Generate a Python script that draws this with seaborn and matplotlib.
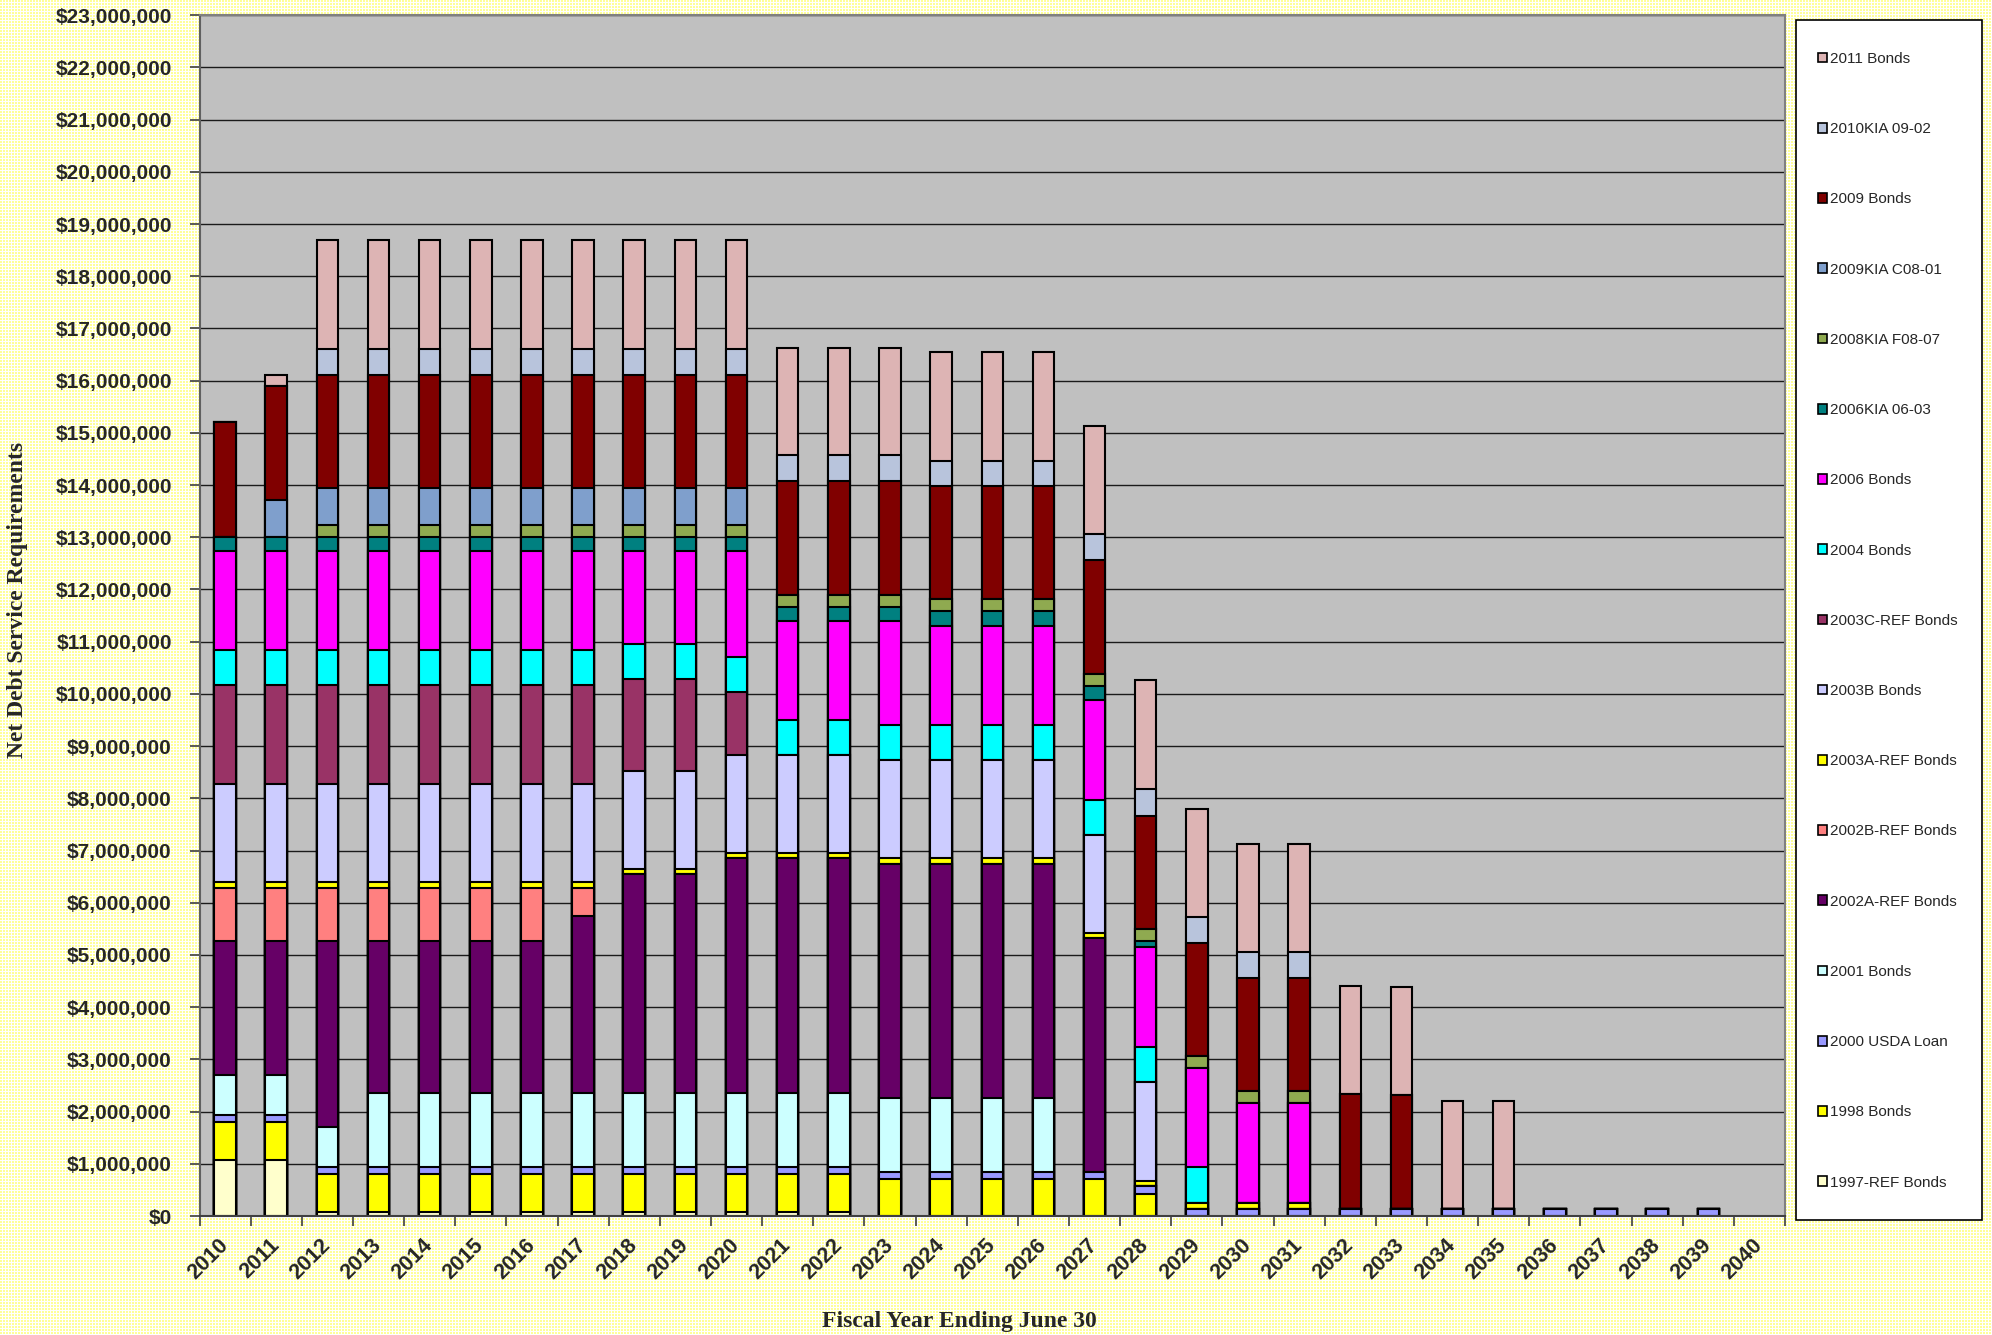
import numpy as np
import pandas as pd
import matplotlib
matplotlib.use("Agg")
import matplotlib.pyplot as plt
from matplotlib.patches import Patch, Rectangle
import seaborn as sns

# Fiscal years (ending June 30)
years = [str(y) for y in range(2010, 2041)]

# Annual debt service per issue, in millions of dollars (2010 ... 2040)
bonds_1997_ref = [1.08, 1.08] + [0.08] * 11 + [0.0] * 18
bonds_1998 = [0.72] * 13 + [0.70] * 5 + [0.43] + [0.0] * 12
usda_loan_2000 = [0.14] * 30 + [0.0]
bonds_2001 = [0.77] * 3 + [1.41] * 10 + [1.42] * 4 + [0.0] * 14
bonds_2002a_ref = [2.55, 2.55, 3.55, 2.91, 2.91, 2.91, 2.91, 3.40, 4.20, 4.20,
                   4.50, 4.50, 4.50, 4.49, 4.49, 4.49, 4.49, 4.48] + [0.0] * 13
bonds_2002b_ref = [1.03] * 7 + [0.54] + [0.0] * 23
bonds_2003a_ref = [0.11] * 8 + [0.10] * 2 + [0.11] * 3 + [0.10] * 9 + [0.0] * 9
bonds_2003b = [1.87] * 8 + [1.88] * 2 + [1.87] * 3 + [1.88] * 5 + [1.89] + [0.0] * 12
bonds_2003c_ref = [1.91] * 8 + [1.75] * 2 + [1.20] + [0.0] * 20
bonds_2004 = [0.67] * 8 + [0.68] * 3 + [0.67] * 2 + [0.68] * 4 + [0.67, 0.68, 0.69] + [0.0] * 11
bonds_2006 = [1.89] * 8 + [1.78] * 2 + [2.03] + [1.89] * 2 + [1.98] + [1.90] * 3 + [1.91] * 3 + [1.93] * 2 + [0.0] * 9
kia_2006_0603 = [0.27] * 18 + [0.12] + [0.0] * 12
kia_2008_f0807 = [0.0, 0.0] + [0.23] * 18 + [0.22] * 2 + [0.0] * 9
kia_2009_c0801 = [0.0, 0.71] + [0.70] * 9 + [0.0] * 20
bonds_2009 = [2.19, 2.18] + [2.17] * 9 + [2.18] * 6 + [2.19, 2.17] + [2.16] * 3 + [2.20, 2.17] + [0.0] * 7
kia_2010_0902 = [0.0, 0.0] + [0.49] * 9 + [0.50] * 3 + [0.48] * 3 + [0.49] + [0.50] * 2 + [0.51] * 2 + [0.0] * 9
bonds_2011 = [0.0, 0.20] + [2.09] * 9 + [2.06] * 3 + [2.08] * 3 + [2.07, 2.09, 2.07] + [2.06] * 2 + [2.07] * 4 + [0.0] * 5

series_names = ["1997-REF Bonds", "1998 Bonds", "2000 USDA Loan", "2001 Bonds",
                "2002A-REF Bonds", "2002B-REF Bonds", "2003A-REF Bonds", "2003B Bonds",
                "2003C-REF Bonds", "2004 Bonds", "2006 Bonds", "2006KIA 06-03",
                "2008KIA F08-07", "2009KIA C08-01", "2009 Bonds", "2010KIA 09-02",
                "2011 Bonds"]
series_values = [bonds_1997_ref, bonds_1998, usda_loan_2000, bonds_2001,
                 bonds_2002a_ref, bonds_2002b_ref, bonds_2003a_ref, bonds_2003b,
                 bonds_2003c_ref, bonds_2004, bonds_2006, kia_2006_0603,
                 kia_2008_f0807, kia_2009_c0801, bonds_2009, kia_2010_0902,
                 bonds_2011]
series_colors = ["#FFFFCC", "#FFFF00", "#9999FF", "#CCFFFF",
                 "#660066", "#FF8080", "#FFFF00", "#CCCCFF",
                 "#993366", "#00FFFF", "#FF00FF", "#008080",
                 "#8FAA50", "#7F9FCC", "#800000", "#B8C4DC",
                 "#DDB4B4"]

sns.set_theme(style="white")
plt.rcParams["font.family"] = ["Liberation Sans", "DejaVu Sans"]

W, H = 1992, 1335
fig = plt.figure(figsize=(W / 100, H / 100), dpi=100, facecolor="white")

# dotted pale-yellow chart area fill
yy, xx = np.mgrid[0:H, 0:W]
dots = ((xx % 3) < 2) & ((yy % 3) < 2)
bg = np.ones((H, W, 3))
bg[dots] = [1.0, 1.0, 0.6]
fig.figimage(bg, xo=0, yo=0, zorder=-10)

ax = fig.add_axes([199.5 / W, 1 - 1216 / H, (1785 - 199.5) / W, (1216 - 15.2) / H])
ax.set_facecolor("#C0C0C0")
ax.set_axisbelow(True)
ax.yaxis.grid(True, color="#1a1a1a", linewidth=1.0)
ax.xaxis.grid(False)

df = pd.DataFrame(dict(zip(series_names, series_values)), index=years) * 1e6
cum = df.cumsum(axis=1)

# stacked bars: draw running totals from the top layer down
for name, color in reversed(list(zip(series_names, series_colors))):
    heights = cum[name].where(cum[name] > 0)
    sns.barplot(x=years, y=heights.values, order=years, color=color,
                saturation=1, width=0.42, edgecolor="black", linewidth=1.5,
                errorbar=None, ax=ax)

ax.set_xlim(-0.5, 30.5)
ax.set_ylim(0, 23e6)
yvals = np.arange(0, 23e6 + 1, 1e6)
ax.set_yticks(yvals, labels=[f"${v:,.0f}" for v in yvals],
              fontsize=15, fontweight="bold")
ax.set_xticks(range(len(years)), labels=years, fontsize=15.5, fontweight="bold")
ax.set_xticks(np.arange(-0.5, len(years), 1.0), minor=True)
for lbl in ax.get_xticklabels():
    lbl.set_rotation(45)
    lbl.set_ha("right")
    lbl.set_va("center")
    lbl.set_rotation_mode("anchor")
ax.tick_params(axis="x", which="major", bottom=True, length=0, pad=19)
ax.tick_params(axis="x", which="minor", bottom=True, length=7, width=1.2,
               color="#404040", direction="out")
ax.tick_params(axis="y", which="major", left=True, length=7, width=1.2,
               color="#404040", direction="out", pad=13)
ax.set_xlabel("")
ax.set_ylabel("")

for side in ["top", "right"]:
    ax.spines[side].set_color("#808080")
    ax.spines[side].set_linewidth(1.5)
ax.spines["left"].set_color("#606060")
ax.spines["left"].set_linewidth(1.5)
ax.spines["bottom"].set_color("#404040")
ax.spines["bottom"].set_linewidth(1.5)

fig.text(959 / W, 1 - 1321 / H, "Fiscal Year Ending June 30",
         family="Liberation Serif", fontweight="bold", fontsize=17,
         ha="center", va="center")
fig.text(18 / W, 1 - 600 / H, "Net Debt Service Requirements",
         family="Liberation Serif", fontweight="bold", fontsize=17,
         rotation=90, ha="center", va="center")

# legend box
box = Rectangle((1796 / W, 1 - 1220 / H), (1982 - 1796) / W, (1220 - 20) / H,
                transform=fig.transFigure, facecolor="white", edgecolor="black",
                linewidth=1.2, zorder=1)
fig.patches.append(box)

handles = [Patch(facecolor=c, edgecolor="black", linewidth=1.2, label=n)
           for n, c in reversed(list(zip(series_names, series_colors)))]
leg = fig.legend(handles=handles, loc="upper left",
                 bbox_to_anchor=(1818 / W, 1 - 52 / H), frameon=False,
                 prop={"family": "Liberation Sans", "size": 11},
                 handlelength=0.6, handleheight=0.6, handletextpad=0.2,
                 labelspacing=3.68, borderpad=0, borderaxespad=0)
leg.set_zorder(2)

fig.savefig("out.png", dpi=100)
